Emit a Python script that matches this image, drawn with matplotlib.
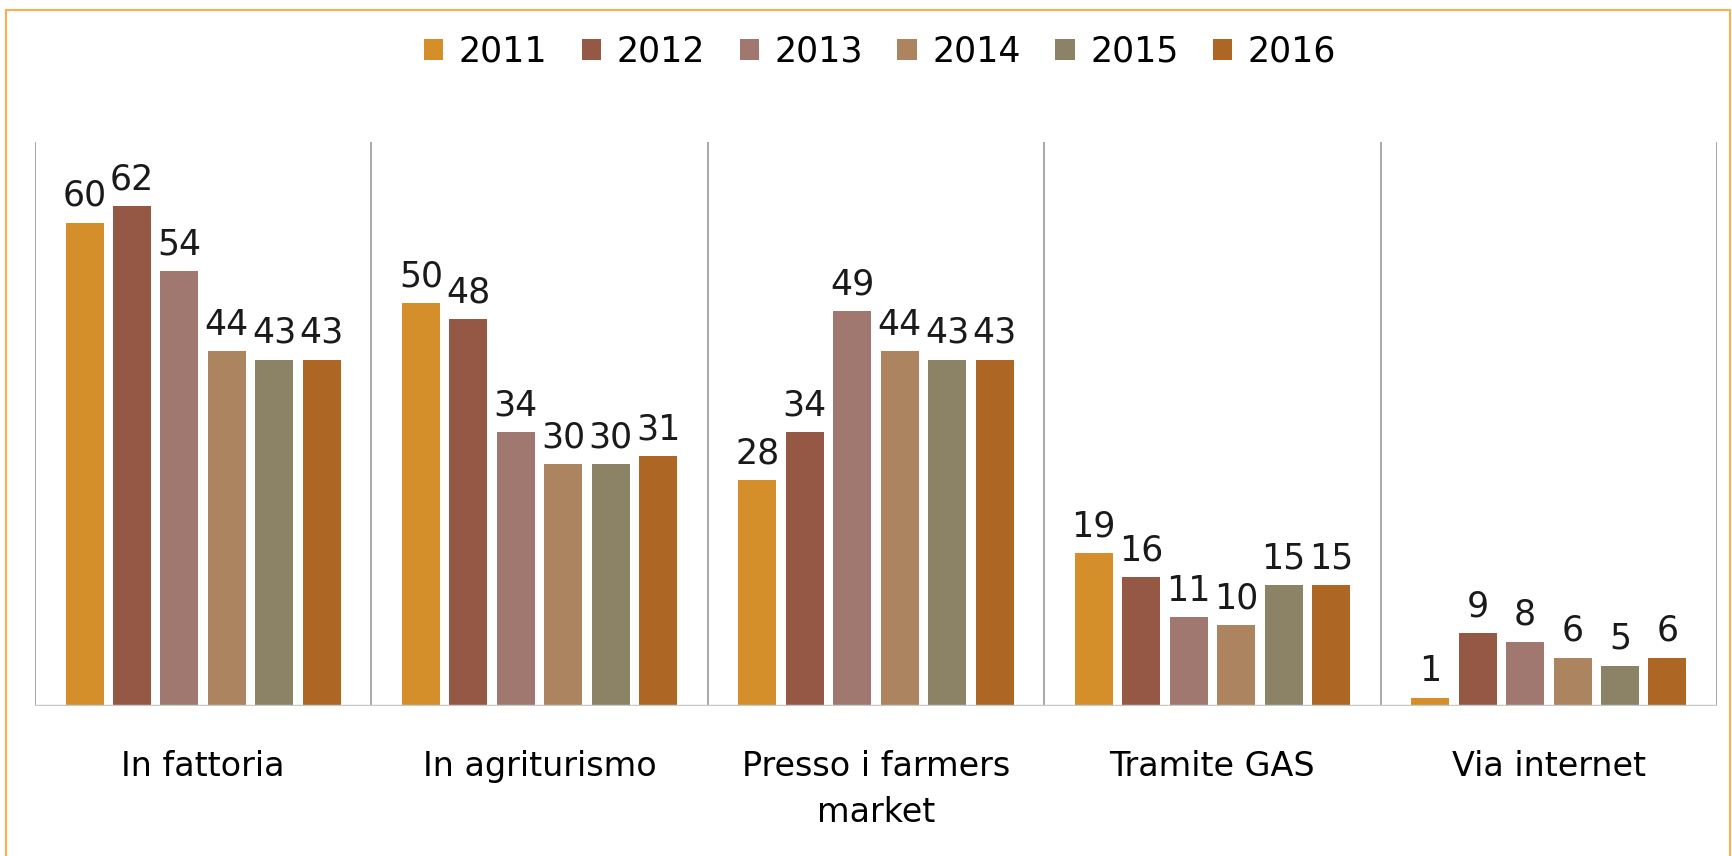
import numpy as np
import matplotlib.pyplot as plt
from matplotlib.patches import Rectangle

categories = ['In fattoria', 'In agriturismo', 'Presso i farmers\nmarket', 'Tramite GAS', 'Via internet']
years = ['2011', '2012', '2013', '2014', '2015', '2016']
values = {
    '2011': [60, 50, 28, 19, 1],
    '2012': [62, 48, 34, 16, 9],
    '2013': [54, 34, 49, 11, 8],
    '2014': [44, 30, 44, 10, 6],
    '2015': [43, 30, 43, 15, 5],
    '2016': [43, 31, 43, 15, 6],
}
colors = ['#D48F2A', '#955845', '#A07870', '#AD8460', '#8C8266', '#AD6624']

plt.rcParams['font.family'] = ['DejaVu Sans']

fig = plt.figure(figsize=(17.33, 8.56), dpi=100)
ax = fig.add_axes([35 / 1733, 1 - 706 / 856, (1717 - 35) / 1733, (706 - 142) / 856])

x = np.arange(len(categories))
pitch = 0.141
width = 0.113
for i, yr in enumerate(years):
    pos = x + (i - 2.5) * pitch
    bars = ax.bar(pos, values[yr], width, color=colors[i], label=yr)
    ax.bar_label(bars, padding=7, fontsize=25, color='#1a1a1a')

ax.set_xlim(-0.5, len(categories) - 0.5)
ax.set_ylim(0, 70)
for b in np.arange(len(categories) + 1) - 0.5:
    ax.axvline(b, color='#9a9a9a', lw=1.2)
ax.axhline(0, color='#c8c8c8', lw=2.5)

for s in ax.spines.values():
    s.set_visible(False)
ax.set_yticks([])
ax.set_xticks(x)
ax.set_xticklabels(categories, fontsize=24, linespacing=1.5, va='top')
ax.tick_params(axis='x', length=0, pad=32)

fig.legend(loc='center', bbox_to_anchor=(880 / 1733, 1 - 52 / 856), ncol=6, frameon=False,
           fontsize=25, handlelength=0.55, handleheight=0.55, handletextpad=0.45, columnspacing=1.0)

fig.patches.append(Rectangle((6 / 1733, -0.05), (1730 - 6) / 1733, 1 - 10 / 856 + 0.05,
                             transform=fig.transFigure, fill=False, edgecolor='#F7B04A', lw=1.5))

fig.savefig('out.png', dpi=100)
